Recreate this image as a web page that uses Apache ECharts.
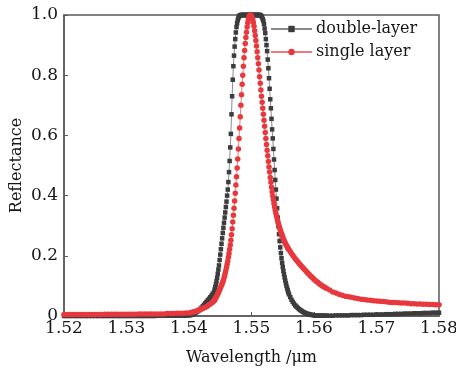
<!DOCTYPE html>
<html>
<head>
<meta charset="utf-8">
<script src="https://cdn.jsdelivr.net/npm/echarts@6/dist/echarts.min.js"></script>
<style>
  html, body { margin: 0; padding: 0; background: #fff; }
  #chart { width: 456px; height: 368px; }
</style>
</head>
<body>
<div id="chart"></div>
<script>
// wavelength grid (um): coarse in the flat tails, finer where the curves bend
var wlLow = [
  1.5200, 1.5205, 1.5210, 1.5215, 1.5220, 1.5225, 1.5230, 1.5235, 1.5240, 1.5245,
  1.5250, 1.5255, 1.5260, 1.5265, 1.5270, 1.5275, 1.5280, 1.5285, 1.5290, 1.5295,
  1.5300, 1.5305, 1.5310, 1.5315, 1.5320, 1.5325, 1.5330, 1.5335, 1.5340, 1.5345,
  1.5350, 1.5355, 1.5360, 1.5365, 1.5370, 1.5375, 1.5380, 1.5385, 1.5390, 1.5395,
  1.5400, 1.5402, 1.5404, 1.5406, 1.5408, 1.5410, 1.5412, 1.5414, 1.5416, 1.5418,
  1.5420, 1.5422, 1.5424, 1.5426, 1.5428, 1.5430, 1.5432, 1.5434, 1.5436, 1.5438
];
var wlPeak = [
  1.5440, 1.5441, 1.5442, 1.5443, 1.5444, 1.5445, 1.5446, 1.5447, 1.5448, 1.5449,
  1.5450, 1.5451, 1.5452, 1.5453, 1.5454, 1.5455, 1.5456, 1.5457, 1.5458, 1.5459,
  1.5460, 1.5461, 1.5462, 1.5463, 1.5464, 1.5465, 1.5466, 1.5467, 1.5468, 1.5469,
  1.5470, 1.5471, 1.5472, 1.5473, 1.5474, 1.5475, 1.5476, 1.5477, 1.5478, 1.5479,
  1.5480, 1.5481, 1.5482, 1.5483, 1.5484, 1.5485, 1.5486, 1.5487, 1.5488, 1.5489,
  1.5490, 1.5491, 1.5492, 1.5493, 1.5494, 1.5495, 1.5496, 1.5497, 1.5498, 1.5499,
  1.5500, 1.5501, 1.5502, 1.5503, 1.5504, 1.5505, 1.5506, 1.5507, 1.5508, 1.5509,
  1.5510, 1.5511, 1.5512, 1.5513, 1.5514, 1.5515, 1.5516, 1.5517, 1.5518, 1.5519,
  1.5520, 1.5521, 1.5522, 1.5523, 1.5524, 1.5525, 1.5526, 1.5527, 1.5528, 1.5529,
  1.5530, 1.5531, 1.5532, 1.5533, 1.5534, 1.5535, 1.5536, 1.5537, 1.5538, 1.5539,
  1.5540, 1.5541, 1.5542, 1.5543, 1.5544, 1.5545, 1.5546, 1.5547, 1.5548, 1.5549,
  1.5550, 1.5551, 1.5552, 1.5553, 1.5554, 1.5555, 1.5556, 1.5557, 1.5558, 1.5559,
  1.5560
];
var wlHigh = [
  1.5562, 1.5564, 1.5566, 1.5568, 1.5570, 1.5572, 1.5574, 1.5576, 1.5578, 1.5580,
  1.5582, 1.5584, 1.5586, 1.5588, 1.5590, 1.5592, 1.5594, 1.5596, 1.5598, 1.5600,
  1.5602, 1.5604, 1.5606, 1.5608, 1.5610, 1.5612, 1.5614, 1.5616, 1.5618, 1.5620,
  1.5625, 1.5630, 1.5635, 1.5640, 1.5645, 1.5650, 1.5655, 1.5660,
  1.5665, 1.5670, 1.5675, 1.5680, 1.5685, 1.5690, 1.5695, 1.5700, 1.5705, 1.5710,
  1.5715, 1.5720, 1.5725, 1.5730, 1.5735, 1.5740, 1.5745, 1.5750, 1.5755, 1.5760,
  1.5765, 1.5770, 1.5775, 1.5780, 1.5785, 1.5790, 1.5795, 1.5800
];

// reflectance, double-layer grating
var doubleLow = [
  0.000, 0.000, 0.000, 0.000, 0.000, 0.000, 0.000, 0.000, 0.000, 0.000,
  0.000, 0.000, 0.000, 0.000, 0.000, 0.000, 0.000, 0.000, 0.000, 0.000,
  0.000, 0.000, 0.000, 0.000, 0.000, 0.000, 0.000, 0.000, 0.000, 0.000,
  0.001, 0.001, 0.001, 0.001, 0.001, 0.001, 0.001, 0.001, 0.001, 0.001,
  0.002, 0.003, 0.004, 0.006, 0.008, 0.010, 0.013, 0.016, 0.019, 0.023,
  0.027, 0.032, 0.037, 0.042, 0.047, 0.052, 0.057, 0.062, 0.068, 0.074
];
var doublePeak = [
  0.080, 0.088, 0.096, 0.105, 0.115, 0.127, 0.140, 0.154, 0.168, 0.186,
  0.204, 0.222, 0.240, 0.258, 0.276, 0.293, 0.310, 0.327, 0.344, 0.362,
  0.380, 0.400, 0.420, 0.445, 0.478, 0.515, 0.560, 0.605, 0.670, 0.730,
  0.785, 0.830, 0.865, 0.895, 0.920, 0.942, 0.960, 0.973, 0.983, 0.990,
  0.995, 0.998, 0.999, 1.000, 1.000, 1.000, 1.000, 1.000, 1.000, 1.000,
  1.000, 1.000, 1.000, 1.000, 1.000, 1.000, 1.000, 1.000, 1.000, 1.000,
  1.000, 1.000, 1.000, 1.000, 1.000, 1.000, 1.000, 1.000, 1.000, 1.000,
  1.000, 1.000, 1.000, 1.000, 1.000, 0.998, 0.996, 0.992, 0.986, 0.980,
  0.970, 0.955, 0.940, 0.920, 0.900, 0.880, 0.852, 0.823, 0.790, 0.755,
  0.720, 0.690, 0.655, 0.620, 0.590, 0.555, 0.520, 0.485, 0.452, 0.420,
  0.390, 0.358, 0.327, 0.298, 0.272, 0.249, 0.228, 0.209, 0.192, 0.177,
  0.163, 0.150, 0.139, 0.128, 0.118, 0.109, 0.100, 0.092, 0.085, 0.078,
  0.072
];
var doubleHigh = [
  0.063, 0.054, 0.047, 0.041, 0.035, 0.031, 0.027, 0.023, 0.020, 0.017,
  0.014, 0.012, 0.010, 0.008, 0.007, 0.006, 0.005, 0.004, 0.003, 0.002,
  0.002, 0.001, 0.001, 0.001, 0.001, 0.001, 0.001, 0.001, 0.001, 0.001,
  0.001, 0.001, 0.002, 0.002, 0.002, 0.002, 0.002, 0.003,
  0.003, 0.003, 0.003, 0.004, 0.004, 0.004, 0.004, 0.005, 0.005, 0.005,
  0.006, 0.006, 0.006, 0.007, 0.007, 0.007, 0.008, 0.008, 0.008, 0.009,
  0.009, 0.009, 0.010, 0.010, 0.010, 0.011, 0.011, 0.011
];

// reflectance, single-layer grating
var singleLow = [
  0.005, 0.005, 0.005, 0.005, 0.005, 0.005, 0.005, 0.005, 0.005, 0.005,
  0.005, 0.005, 0.005, 0.006, 0.006, 0.006, 0.006, 0.006, 0.006, 0.006,
  0.006, 0.006, 0.006, 0.006, 0.007, 0.007, 0.007, 0.007, 0.007, 0.007,
  0.007, 0.007, 0.007, 0.008, 0.008, 0.008, 0.009, 0.009, 0.009, 0.010,
  0.010, 0.011, 0.012, 0.013, 0.014, 0.015, 0.017, 0.018, 0.020, 0.021,
  0.023, 0.025, 0.027, 0.029, 0.031, 0.034, 0.037, 0.040, 0.043, 0.046
];
var singlePeak = [
  0.050, 0.053, 0.057, 0.061, 0.065, 0.069, 0.073, 0.077, 0.082, 0.087,
  0.092, 0.097, 0.102, 0.107, 0.113, 0.119, 0.126, 0.134, 0.143, 0.152,
  0.162, 0.172, 0.183, 0.195, 0.208, 0.222, 0.236, 0.252, 0.270, 0.290,
  0.312, 0.335, 0.358, 0.382, 0.408, 0.435, 0.463, 0.492, 0.522, 0.555,
  0.590, 0.625, 0.662, 0.700, 0.735, 0.770, 0.800, 0.830, 0.858, 0.882,
  0.905, 0.925, 0.943, 0.960, 0.974, 0.985, 0.993, 0.998, 1.000, 0.999,
  0.996, 0.991, 0.984, 0.975, 0.963, 0.948, 0.932, 0.915, 0.897, 0.878,
  0.858, 0.838, 0.817, 0.795, 0.773, 0.751, 0.730, 0.710, 0.690, 0.670,
  0.650, 0.630, 0.610, 0.590, 0.570, 0.551, 0.532, 0.513, 0.495, 0.478,
  0.460, 0.444, 0.428, 0.413, 0.399, 0.386, 0.374, 0.362, 0.351, 0.341,
  0.332, 0.323, 0.315, 0.307, 0.300, 0.293, 0.286, 0.280, 0.274, 0.268,
  0.262, 0.257, 0.252, 0.247, 0.242, 0.238, 0.234, 0.230, 0.226, 0.223,
  0.220
];
var singleHigh = [
  0.214, 0.208, 0.202, 0.196, 0.190, 0.185, 0.180, 0.175, 0.170, 0.165,
  0.161, 0.156, 0.152, 0.147, 0.143, 0.139, 0.134, 0.130, 0.126, 0.122,
  0.118, 0.115, 0.112, 0.108, 0.105, 0.102, 0.099, 0.097, 0.094, 0.092,
  0.086, 0.080, 0.076, 0.072, 0.069, 0.066, 0.064, 0.062,
  0.060, 0.058, 0.056, 0.055, 0.053, 0.052, 0.051, 0.050, 0.049, 0.048,
  0.047, 0.046, 0.045, 0.045, 0.044, 0.043, 0.043, 0.042, 0.041, 0.041,
  0.040, 0.040, 0.039, 0.039, 0.038, 0.038, 0.037, 0.037
];

var seriesNames = ['double-layer', 'single layer'];

var FONT = 'DejaVu Serif';
var AXIS_COLOR = '#5a5a5a';
var TEXT_COLOR = '#161616';

var wl = wlLow.concat(wlPeak, wlHigh);
function pairs(vals) {
  var out = [];
  for (var i = 0; i < wl.length; i++) out.push([wl[i], vals[i]]);
  return out;
}
var doubleData = pairs(doubleLow.concat(doublePeak, doubleHigh));
var singleData = pairs(singleLow.concat(singlePeak, singleHigh));

var chart = echarts.init(document.getElementById('chart'), null, { renderer: 'canvas' });
chart.setOption({
  animation: false,
  backgroundColor: '#fff',
  grid: {
    left: 64, right: 17, top: 15, bottom: 52,
    outerBoundsMode: 'none',
    show: true, borderColor: AXIS_COLOR, borderWidth: 1.5, backgroundColor: 'transparent'
  },
  legend: {
    orient: 'vertical',
    left: 270, top: 20,
    padding: 0,
    itemGap: 5,
    itemWidth: 41,
    itemHeight: 8,
    textStyle: { fontFamily: FONT, fontSize: 16, color: TEXT_COLOR, lineHeight: 18, padding: [0, 0, 0, -1] },
    data: seriesNames
  },
  xAxis: {
    type: 'value',
    min: 1.52, max: 1.58, interval: 0.01,
    name: 'Wavelength /μm',
    nameLocation: 'middle',
    nameGap: 34,
    nameMoveOverlap: false,
    nameTextStyle: { fontFamily: FONT, fontSize: 16, color: TEXT_COLOR },
    axisLine: { lineStyle: { color: AXIS_COLOR, width: 1.5 } },
    axisTick: { inside: true, length: 4, lineStyle: { color: AXIS_COLOR, width: 1 } },
    splitLine: { show: false },
    axisLabel: {
      fontFamily: FONT, fontSize: 17, color: TEXT_COLOR, margin: 4,
      formatter: function (v) { return v.toFixed(2); }
    }
  },
  yAxis: {
    type: 'value',
    min: 0, max: 1, interval: 0.2,
    name: 'Reflectance',
    nameLocation: 'middle',
    nameGap: 39,
    nameMoveOverlap: false,
    nameTextStyle: { fontFamily: FONT, fontSize: 16, color: TEXT_COLOR },
    axisLine: { show: true, lineStyle: { color: AXIS_COLOR, width: 1.5 } },
    axisTick: { show: true, inside: true, length: 4, lineStyle: { color: AXIS_COLOR, width: 1 } },
    splitLine: { show: false },
    axisLabel: {
      fontFamily: FONT, fontSize: 17, color: TEXT_COLOR, margin: 6,
      formatter: function (v) { return v === 0 ? '0' : v.toFixed(1); }
    }
  },
  series: [
    {
      name: seriesNames[0],
      type: 'line',
      data: doubleData,
      symbol: 'rect',
      symbolSize: 4.5,
      showSymbol: true,
      showAllSymbol: true,
      clip: false,
      itemStyle: { color: '#3c3c3c' },
      lineStyle: { color: '#8a8a8a', width: 1 },
      emphasis: { disabled: true }
    },
    {
      name: seriesNames[1],
      type: 'line',
      data: singleData,
      symbol: 'circle',
      symbolSize: 5.5,
      showSymbol: true,
      showAllSymbol: true,
      clip: false,
      itemStyle: { color: '#e8383d' },
      lineStyle: { color: '#f07a7a', width: 1 },
      emphasis: { disabled: true }
    }
  ]
});
</script>
</body>
</html>
